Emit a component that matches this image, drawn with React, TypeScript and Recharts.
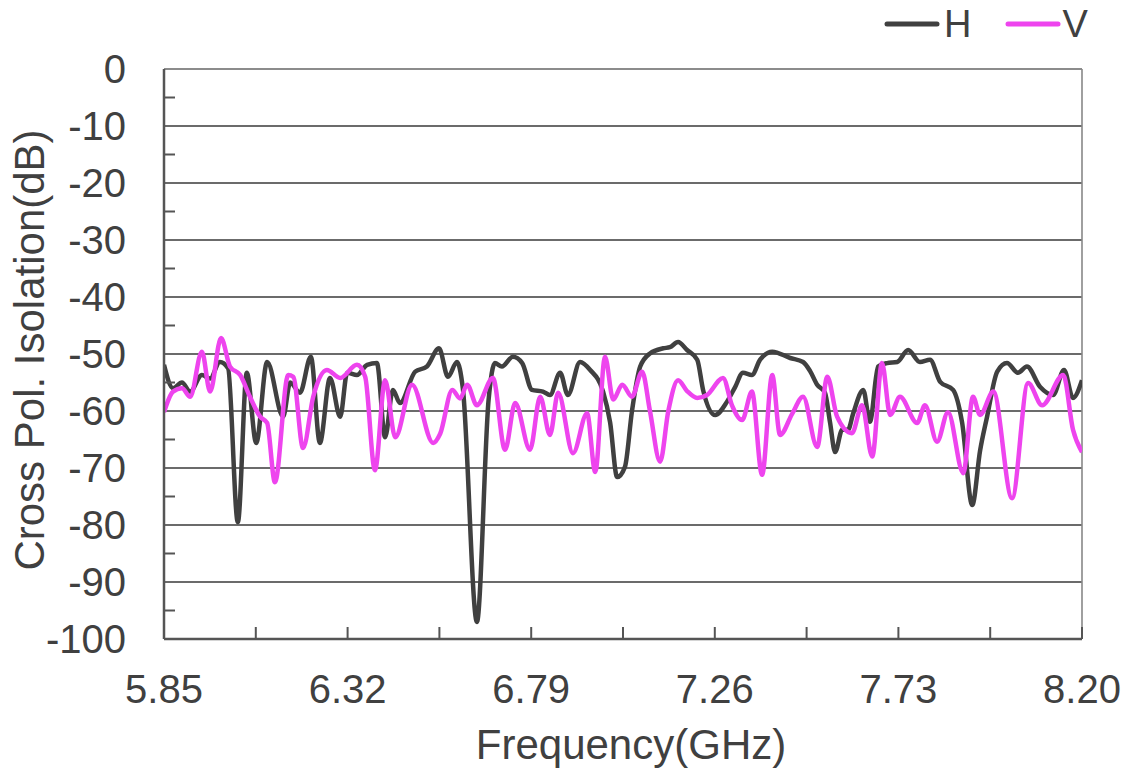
import React from 'react';
import { LineChart, Line, XAxis, YAxis, ReferenceLine, Label } from 'recharts';

// ---- data ----
const hFreq = [
  5.85, 5.873, 5.896, 5.917, 5.947, 5.968, 5.993, 6.014, 6.039, 6.062,
  6.086, 6.114, 6.155, 6.173, 6.198, 6.226, 6.249, 6.275, 6.301, 6.319,
  6.344, 6.37, 6.395, 6.416, 6.436, 6.454, 6.493, 6.523, 6.554, 6.577,
  6.6, 6.615, 6.651, 6.681, 6.697, 6.715, 6.743, 6.767, 6.792, 6.82,
  6.838, 6.864, 6.884, 6.915, 6.941, 6.974, 6.992, 7.01, 7.03, 7.048,
  7.069, 7.094, 7.128, 7.145, 7.166, 7.189, 7.215, 7.23, 7.261, 7.291,
  7.312, 7.332, 7.355, 7.376, 7.407, 7.453, 7.486, 7.504, 7.522, 7.542,
  7.555, 7.568, 7.586, 7.601, 7.614, 7.64, 7.657, 7.678, 7.701, 7.727,
  7.755, 7.785, 7.811, 7.837, 7.87, 7.893, 7.919, 7.939, 7.957, 7.983,
  8.008, 8.036, 8.059, 8.093, 8.126, 8.154, 8.177, 8.2,
];
const hIso = [
  -51.9, -56, -55, -56.6, -53.7, -54.3, -51.4, -52.5, -79.5, -53.3,
  -65.6, -51.4, -61, -55, -56.8, -50.5, -65.6, -54.2, -61, -53.3,
  -53.7, -51.9, -51.6, -64.6, -56.3, -58.6, -53.1, -52.2, -49, -54,
  -51.4, -56, -97, -58, -51.6, -52.2, -50.5, -51.6, -56.3, -56.6,
  -57.2, -53.3, -57.2, -51.4, -52.8, -56.6, -62, -71.6, -69.8, -60,
  -52.2, -49.9, -49, -48.8, -47.9, -49.3, -51, -56.3, -60.7, -58.4,
  -55.8, -53.3, -53.7, -51, -49.6, -50.7, -51.4, -53, -55.4, -56.8,
  -62, -67.2, -63.3, -63.3, -60.5, -56.3, -61.9, -52.2, -51.6, -51.4,
  -49.3, -51.4, -51, -54.9, -56.3, -62, -76.5, -67, -61, -53.1,
  -51.6, -53.3, -52.2, -55.8, -57.2, -52.8, -57.7, -54.6,
];

const vFreq = [
  5.85, 5.873, 5.896, 5.917, 5.947, 5.968, 5.996, 6.019, 6.045, 6.07,
  6.096, 6.114, 6.134, 6.168, 6.181, 6.206, 6.232, 6.267, 6.301, 6.344,
  6.365, 6.39, 6.416, 6.442, 6.485, 6.539, 6.557, 6.588, 6.608, 6.626,
  6.651, 6.692, 6.723, 6.749, 6.787, 6.813, 6.838, 6.859, 6.897, 6.933,
  6.954, 6.979, 7.0, 7.023, 7.048, 7.074, 7.094, 7.12, 7.141, 7.166,
  7.189, 7.215, 7.24, 7.281, 7.304, 7.33, 7.355, 7.381, 7.407, 7.427,
  7.458, 7.486, 7.522, 7.548, 7.573, 7.611, 7.637, 7.663, 7.688, 7.709,
  7.734, 7.778, 7.798, 7.829, 7.857, 7.896, 7.921, 7.939, 7.973, 8.021,
  8.062, 8.098, 8.152, 8.177, 8.2,
];
const vIso = [
  -60.2, -56.6, -56, -57.5, -49.6, -56.6, -47.2, -52.2, -53.7, -57.5,
  -61, -62.1, -72.5, -53.7, -54, -66.5, -57.5, -52.8, -54.2, -51.9,
  -54, -70.4, -54.6, -64.6, -55.4, -65.6, -64, -56.3, -57.8, -55.4,
  -59, -54.2, -66.8, -58.6, -66.8, -57.5, -64.2, -56.8, -67.4, -60.4,
  -70.7, -50.5, -58, -55.4, -57.5, -53.1, -60, -68.9, -60, -54.6,
  -56.5, -57.7, -57.2, -54.2, -59, -61.6, -56.6, -71.2, -53.7, -64.2,
  -60.5, -57.5, -66.3, -54, -61, -63.9, -59, -68, -51.6, -60.7,
  -57.5, -62.1, -59, -65.4, -60.2, -70.9, -57.5, -60.7, -56.6, -75.3,
  -55.1, -59, -53.7, -63.3, -67.2,
];

const xTicks = [5.85, 6.085, 6.32, 6.555, 6.79, 7.025, 7.26, 7.495, 7.73, 7.965, 8.2];
const xLabelTicks = [5.85, 6.32, 6.79, 7.26, 7.73, 8.2];
const yTicks = [0, -5, -10, -15, -20, -25, -30, -35, -40, -45, -50, -55, -60, -65, -70, -75, -80, -85, -90, -95, -100];
const yGrid = [-10, -20, -30, -40, -50, -60, -70, -80, -90];

const seriesNames = ['H', 'V'];

// ---- styling ----
const FONT = '"Liberation Sans", Arial, Helvetica, sans-serif';
const TEXT = '#404040';
const H_COLOR = '#404040';
const V_COLOR = '#ee44ee';
const seriesColors = [H_COLOR, V_COLOR];
const AXIS = '#555555';
const X_TICK_MARGIN = 36;
const Y_TICK_MARGIN = 38;

const hData = hFreq.map((f, i) => ({ f, iso: hIso[i] }));
const vData = vFreq.map((f, i) => ({ f, iso: vIso[i] }));

const XTick = (props: any) => {
  const { x, y, payload } = props;
  const axisY = y - X_TICK_MARGIN;
  const isLabel = xLabelTicks.some((t) => Math.abs(t - payload.value) < 1e-6);
  return (
    <g>
      <line x1={x} x2={x} y1={axisY} y2={axisY - 12} stroke={AXIS} strokeWidth={2} />
      {isLabel && (
        <text x={x} y={y} dy="0.71em" textAnchor="middle" fontSize={40} fill={TEXT} fontFamily={FONT}>
          {Number(payload.value).toFixed(2)}
        </text>
      )}
    </g>
  );
};

const YTick = (props: any) => {
  const { x, y, payload } = props;
  const axisX = x + Y_TICK_MARGIN;
  const isMajor = Math.round(payload.value) % 10 === 0;
  return (
    <g>
      {!isMajor && <line x1={axisX} x2={axisX + 11} y1={y} y2={y} stroke={AXIS} strokeWidth={2} />}
      {isMajor && (
        <text x={x} y={y} dy="0.36em" textAnchor="end" fontSize={40} fill={TEXT} fontFamily={FONT}>
          {payload.value}
        </text>
      )}
    </g>
  );
};

const YTitle = (props: any) => {
  const vb = props.viewBox || { x: 0, y: 69, width: 164, height: 570 };
  const cx = vb.x + 29;
  const cy = vb.y + vb.height / 2 - 4;
  return (
    <text
      x={cx}
      y={cy}
      transform={`rotate(-90 ${cx} ${cy})`}
      textAnchor="middle"
      dominantBaseline="central"
      fontSize={42}
      fill={TEXT}
      fontFamily={FONT}
    >
      Cross Pol. Isolation(dB)
    </text>
  );
};

const XTitle = (props: any) => {
  const vb = props.viewBox || { x: 164, y: 639, width: 918, height: 133 };
  const cx = vb.x + vb.width / 2 + 8;
  const cy = vb.y + 120;
  return (
    <text x={cx} y={cy} textAnchor="middle" fontSize={42} fill={TEXT} fontFamily={FONT}>
      Frequency(GHz)
    </text>
  );
};

const LegendOverlay = () => (
  <div
    style={{
      position: 'absolute',
      left: 884,
      top: 5,
      display: 'flex',
      alignItems: 'center',
      fontFamily: FONT,
      fontSize: 38,
      color: TEXT,
      lineHeight: 1,
    }}
  >
    {seriesNames.map((name, i) => (
      <div key={name} style={{ display: 'flex', alignItems: 'center', marginRight: i === 0 ? 34 : 0 }}>
        <svg width={56} height={8} style={{ display: 'block' }}>
          <line x1={3} x2={53} y1={4} y2={4} stroke={seriesColors[i]} strokeWidth={5} strokeLinecap="round" />
        </svg>
        <span style={{ marginLeft: i === 0 ? 4 : 1 }}>{name}</span>
      </div>
    ))}
  </div>
);

export default function App() {
  return (
    <div style={{ position: 'absolute', left: 0, top: 0, width: 1128, height: 772, background: '#fff' }}>
      <LineChart width={1128} height={772} margin={{ top: 69, right: 46, bottom: 0, left: 0 }}>
        <XAxis
          type="number"
          dataKey="f"
          domain={[5.85, 8.2]}
          ticks={xTicks}
          interval={0}
          height={133}
          tickSize={0}
          tickMargin={X_TICK_MARGIN}
          tickLine={false}
          tick={<XTick />}
          axisLine={{ stroke: AXIS, strokeWidth: 2.5 }}
          allowDataOverflow
        >
          <Label content={<XTitle />} />
        </XAxis>
        <YAxis
          type="number"
          domain={[-100, 0]}
          ticks={yTicks}
          interval={0}
          width={164}
          tickSize={0}
          tickMargin={Y_TICK_MARGIN}
          tickLine={false}
          tick={<YTick />}
          axisLine={{ stroke: AXIS, strokeWidth: 2.5 }}
          allowDataOverflow
        >
          <Label content={<YTitle />} />
        </YAxis>
        {yGrid.map((v) => (
          <ReferenceLine key={v} y={v} stroke="#3a3a3a" strokeWidth={1.4} />
        ))}
        <ReferenceLine y={0} stroke="#666" strokeWidth={1.6} />
        <ReferenceLine x={8.2} stroke="#888" strokeWidth={1.6} />
        <Line
          data={hData}
          dataKey="iso"
          name={seriesNames[0]}
          type="monotone"
          stroke={H_COLOR}
          strokeWidth={4.5}
          dot={false}
          activeDot={false}
          isAnimationActive={false}
        />
        <Line
          data={vData}
          dataKey="iso"
          name={seriesNames[1]}
          type="monotone"
          stroke={V_COLOR}
          strokeWidth={4.5}
          dot={false}
          activeDot={false}
          isAnimationActive={false}
        />
      </LineChart>
      <LegendOverlay />
    </div>
  );
}
